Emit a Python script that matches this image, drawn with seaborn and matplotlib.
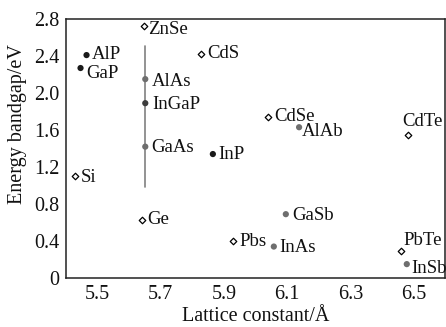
import matplotlib
matplotlib.use("Agg")
import matplotlib.pyplot as plt
import seaborn as sns
import pandas as pd

# ---- data ----
materials = ["ZnSe", "AlP", "GaP", "AlAs", "InGaP", "GaAs", "InP", "CdS", "CdSe",
             "AlAb", "CdTe", "Si", "Ge", "Pbs", "InAs", "GaSb", "PbTe", "InSb"]
lattice = [5.646, 5.465, 5.446, 5.651, 5.651, 5.651, 5.865, 5.829, 6.040,
           6.138, 6.482, 5.430, 5.642, 5.929, 6.058, 6.096, 6.461, 6.479]
bandgap = [2.72, 2.41, 2.27, 2.15, 1.89, 1.42, 1.34, 2.42, 1.74,
           1.63, 1.55, 1.10, 0.63, 0.40, 0.34, 0.69, 0.29, 0.15]
kind = ["open", "black", "black", "gray", "dark", "gray", "black", "open", "open",
        "gray", "open", "open", "open", "open", "gray", "gray", "open", "gray"]
line_x = 5.651
line_y = [0.98, 2.51]
x_ticks = [5.5, 5.7, 5.9, 6.1, 6.3, 6.5]
y_ticks = [0, 0.4, 0.8, 1.2, 1.6, 2.0, 2.4, 2.8]
y_ticklabels = ["0", "0.4", "0.8", "1.2", "1.6", "2.0", "2.4", "2.8"]

# label offsets in pixels (dx, dy up), alignment
offsets = {
    "ZnSe": (4, -3, "left"), "AlP": (5, 1, "left"), "GaP": (6, -5, "left"),
    "AlAs": (7, -2, "left"), "InGaP": (7, -1, "left"), "GaAs": (6, -1, "left"),
    "InP": (5, 0, "left"), "CdS": (6, 1, "left"), "CdSe": (6, 1, "left"),
    "AlAb": (3, -4, "left"), "CdTe": (15, 13, "center"), "Si": (5, -1, "left"),
    "Ge": (5, 0, "left"), "Pbs": (6, 0, "left"), "InAs": (6, -1, "left"),
    "GaSb": (6, -1, "left"), "PbTe": (2, 11, "left"), "InSb": (5, -4, "left"),
}

df = pd.DataFrame({"material": materials, "a": lattice, "eg": bandgap, "kind": kind})

sns.set_style("white")
plt.rcParams["font.family"] = ["Liberation Serif", "DejaVu Serif"]

fig = plt.figure(figsize=(4.46, 3.27), dpi=100)
ax = fig.add_axes([66 / 446, 1 - 278 / 327, (445 - 66) / 446, (278 - 19) / 327])

ax.plot([line_x, line_x], line_y, color="#808080", lw=1.2, zorder=1)

filled = df[df["kind"] != "open"]
palette = {"black": "#1a1a1a", "gray": "#6e6e6e", "dark": "#3c3c3c"}
sns.scatterplot(data=filled, x="a", y="eg", hue="kind", palette=palette, marker="o",
                s=20, linewidth=0, legend=False, ax=ax, zorder=3)
opened = df[df["kind"] == "open"]
sns.scatterplot(data=opened, x="a", y="eg", marker="D", s=11, color="white",
                edgecolor="black", linewidth=0.9, legend=False, ax=ax, zorder=3)

px = 72 / 100
for m, a, e in zip(materials, lattice, bandgap):
    dx, dy, ha = offsets[m]
    ax.annotate(m, (a, e), xytext=(dx * px, dy * px), textcoords="offset points",
                ha=ha, va="center", fontsize=13.5, color="#111111", zorder=4,
                annotation_clip=False)

ax.set_xlim(5.4, 6.6)
ax.set_ylim(0, 2.8)
ax.set_xticks(x_ticks)
ax.set_xticklabels([f"{v:.1f}" for v in x_ticks])
ax.set_yticks(y_ticks)
ax.set_yticklabels(y_ticklabels)
ax.tick_params(axis="x", direction="in", length=3, width=1, pad=5, labelsize=14.5,
               colors="#111111")
ax.tick_params(axis="y", direction="out", length=3, width=1, pad=1.5, labelsize=14.5,
               colors="#111111")
for sp in ax.spines.values():
    sp.set_visible(True)
    sp.set_color("#222222")
    sp.set_linewidth(1.1)

ax.set_xlabel("Lattice constant/Å", fontsize=14.5, labelpad=2, color="#111111")
ax.set_ylabel("Energy bandgap/eV", fontsize=14.5, color="#111111")
ax.yaxis.set_label_coords(-0.102, 0.595)

fig.savefig("out.png", dpi=100)
